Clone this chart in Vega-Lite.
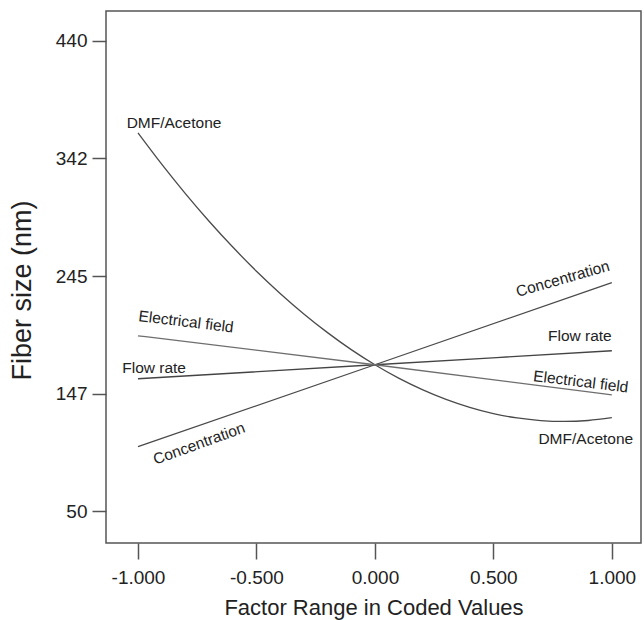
{
  "$schema": "https://vega.github.io/schema/vega-lite/v6.json",
  "width": 535,
  "height": 532,
  "autosize": {"type": "none"},
  "padding": {"left": 106, "top": 11, "right": 3, "bottom": 77},
  "background": "white",
  "config": {
    "view": {"stroke": "#555555", "strokeWidth": 1.5},
    "font": "Liberation Sans",
    "axis": {"labelFont": "Liberation Sans", "titleFont": "Liberation Sans", "labelColor": "#222222", "titleColor": "#222222", "titleFontWeight": "normal", "grid": false, "domain": false, "tickColor": "#555555", "tickWidth": 1.5}
  },
  "datasets": {
    "lines": [
      {"factor": "DMF/Acetone", "x": -1.0, "y": 363.6},
      {"factor": "DMF/Acetone", "x": -0.9, "y": 337.7},
      {"factor": "DMF/Acetone", "x": -0.8, "y": 313.3},
      {"factor": "DMF/Acetone", "x": -0.7, "y": 290.4},
      {"factor": "DMF/Acetone", "x": -0.6, "y": 269.0},
      {"factor": "DMF/Acetone", "x": -0.5, "y": 249.0},
      {"factor": "DMF/Acetone", "x": -0.4, "y": 230.6},
      {"factor": "DMF/Acetone", "x": -0.3, "y": 213.6},
      {"factor": "DMF/Acetone", "x": -0.2, "y": 198.1},
      {"factor": "DMF/Acetone", "x": -0.1, "y": 184.0},
      {"factor": "DMF/Acetone", "x": 0.0, "y": 171.5},
      {"factor": "DMF/Acetone", "x": 0.1, "y": 160.4},
      {"factor": "DMF/Acetone", "x": 0.2, "y": 150.9},
      {"factor": "DMF/Acetone", "x": 0.3, "y": 142.8},
      {"factor": "DMF/Acetone", "x": 0.4, "y": 136.2},
      {"factor": "DMF/Acetone", "x": 0.5, "y": 131.0},
      {"factor": "DMF/Acetone", "x": 0.6, "y": 127.4},
      {"factor": "DMF/Acetone", "x": 0.7, "y": 125.2},
      {"factor": "DMF/Acetone", "x": 0.8, "y": 124.5},
      {"factor": "DMF/Acetone", "x": 0.9, "y": 125.3},
      {"factor": "DMF/Acetone", "x": 1.0, "y": 127.6},
      {"factor": "Concentration", "x": -1.0, "y": 103.6},
      {"factor": "Concentration", "x": 0.0, "y": 171.5},
      {"factor": "Concentration", "x": 1.0, "y": 239.6},
      {"factor": "Flow rate", "x": -1.0, "y": 159.9},
      {"factor": "Flow rate", "x": 0.0, "y": 171.5},
      {"factor": "Flow rate", "x": 1.0, "y": 183.1},
      {"factor": "Electrical field", "x": -1.0, "y": 195.5},
      {"factor": "Electrical field", "x": 0.0, "y": 171.5},
      {"factor": "Electrical field", "x": 1.0, "y": 146.6}
    ],
    "labels": [
      {"text": "DMF/Acetone", "grp": "flat", "x": -0.848, "y": 371.9},
      {"text": "Flow rate", "grp": "flat", "x": -0.932, "y": 169.0},
      {"text": "Flow rate", "grp": "flat", "x": 0.865, "y": 195.1},
      {"text": "DMF/Acetone", "grp": "flat", "x": 0.89, "y": 110.2},
      {"text": "Electrical field", "grp": "elec", "x": -0.797, "y": 207.1},
      {"text": "Electrical field", "grp": "elec", "x": 0.869, "y": 157.4},
      {"text": "Concentration", "grp": "concL", "x": -0.742, "y": 106.1},
      {"text": "Concentration", "grp": "concR", "x": 0.793, "y": 242.7}
    ]
  },
  "encoding": {
    "x": {"field": "x", "type": "quantitative",
      "scale": {"domain": [-1.135, 1.123], "nice": false, "zero": false},
      "axis": {"values": [-1, -0.5, 0, 0.5, 1], "labelExpr": "replace(format(datum.value, '.3f'), '\u2212', '-')", "labelFontSize": 19, "tickSize": 16, "labelPadding": 9, "title": "Factor Range in Coded Values", "titleFontSize": 22, "titlePadding": 10}},
    "y": {"field": "y", "type": "quantitative",
      "scale": {"domain": [23.8, 464.6], "nice": false, "zero": false},
      "axis": {"values": [50, 147.5, 245, 342.5, 440], "labelExpr": "floor(datum.value)", "labelFontSize": 19, "tickSize": 14, "labelPadding": 5, "title": "Fiber size (nm)", "titleFontSize": 27, "titlePadding": 19, "titleY": 279}}
  },
  "layer": [
    {
      "data": {"name": "lines"},
      "mark": {"type": "line", "strokeWidth": 1.3, "interpolate": "monotone"},
      "encoding": {
        "detail": {"field": "factor"},
        "color": {"field": "factor", "type": "nominal", "legend": null,
          "scale": {"domain": ["DMF/Acetone", "Concentration", "Flow rate", "Electrical field"], "range": ["#4a4a4a", "#4a4a4a", "#444444", "#6e6e6e"]}}
      }
    },
    {
      "data": {"name": "labels"},
      "transform": [{"filter": "datum.grp === 'flat'"}],
      "mark": {"type": "text", "fontSize": 15.5, "color": "#222222", "align": "center", "baseline": "middle"},
      "encoding": {"text": {"field": "text"}}
    },
    {
      "data": {"name": "labels"},
      "transform": [{"filter": "datum.grp === 'elec'"}],
      "mark": {"type": "text", "fontSize": 15.5, "color": "#222222", "align": "center", "baseline": "middle", "angle": 7},
      "encoding": {"text": {"field": "text"}}
    },
    {
      "data": {"name": "labels"},
      "transform": [{"filter": "datum.grp === 'concL'"}],
      "mark": {"type": "text", "fontSize": 15.5, "color": "#222222", "align": "center", "baseline": "middle", "angle": 340},
      "encoding": {"text": {"field": "text"}}
    },
    {
      "data": {"name": "labels"},
      "transform": [{"filter": "datum.grp === 'concR'"}],
      "mark": {"type": "text", "fontSize": 15.5, "color": "#222222", "align": "center", "baseline": "middle", "angle": 344},
      "encoding": {"text": {"field": "text"}}
    }
  ]
}
